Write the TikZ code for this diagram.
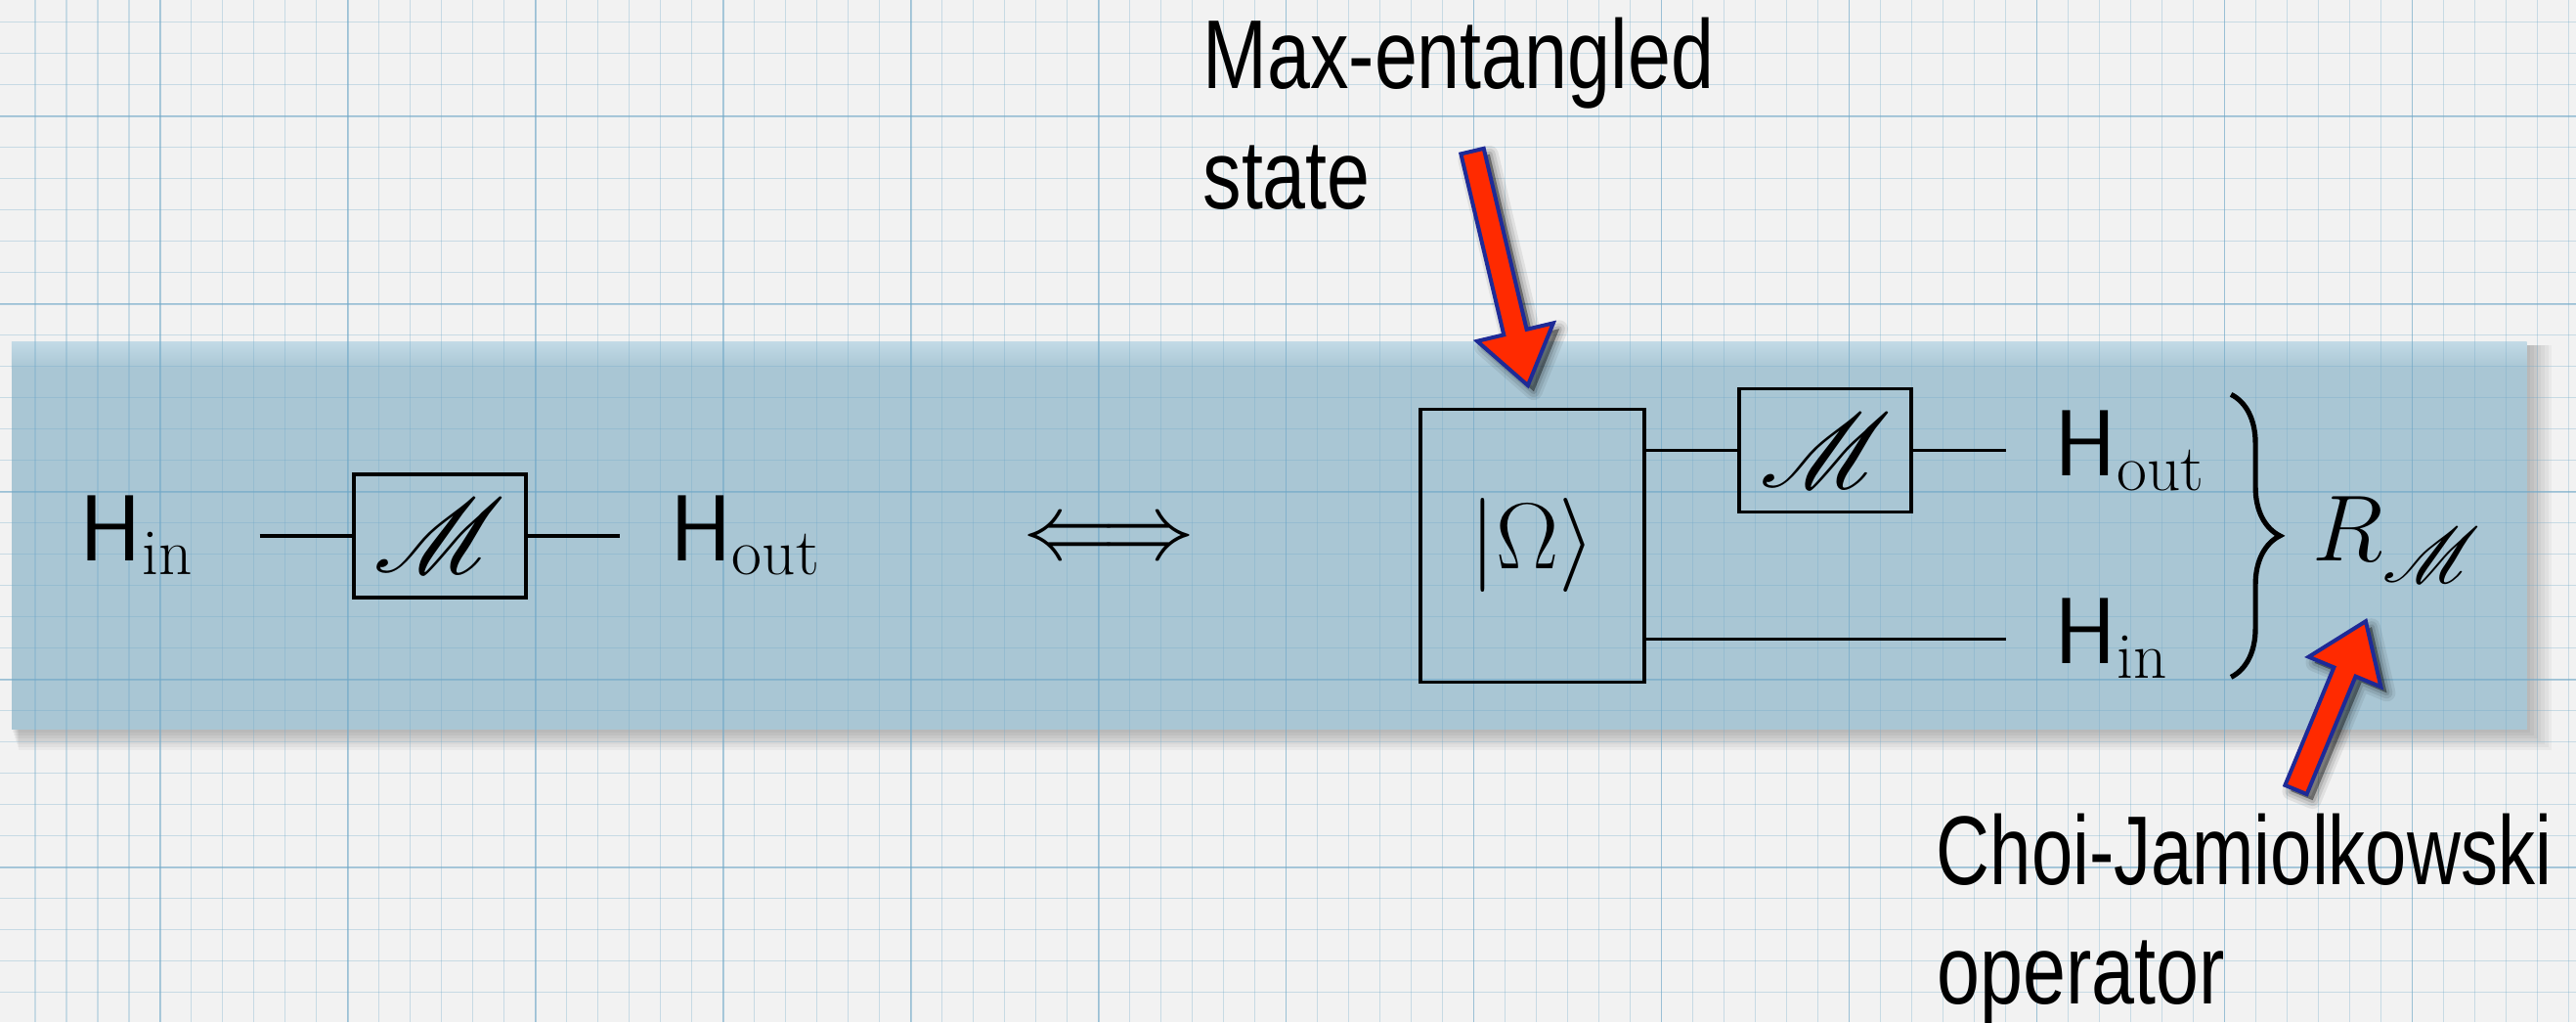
\RequirePackage{fix-cm}
\documentclass[tikz,border=0pt]{standalone}
\usepackage{amsmath}
\usepackage{mathrsfs}
\DeclareFontFamily{U}{rsfs}{\skewchar\font127 }
\DeclareFontShape{U}{rsfs}{m}{n}{<-6> rsfs5 <6-8> rsfs7 <8-> rsfs10}{}
\usepackage{fontspec}
\usetikzlibrary{calc,decorations.pathreplacing}
\newfontfamily\lblfont[FakeStretch=0.79]{Liberation Sans}
\newfontfamily\lblfontn[FakeStretch=0.76]{Liberation Sans}
\newcommand\bigM{\mbox{\fontsize{54}{60}\selectfont$\mathscr{M}$}}
\newcommand\subM{\mbox{\fontsize{40}{44}\selectfont$\mathscr{M}$}}
\definecolor{bgcol}{HTML}{F2F2F2}
\definecolor{bandcol}{HTML}{A9C6D4}
\definecolor{bandtop}{HTML}{C2DAE6}
\definecolor{gridcol}{HTML}{6FA8C8}
\definecolor{arrowred}{HTML}{FF2A00}
\definecolor{arrowblue}{HTML}{1E2A96}
\newcommand\mkpointer[3]{%
  \coordinate (#1T) at #2;
  \coordinate (#1P) at #3;
  \coordinate (#1H) at ($(#1P)!28pt!(#1T)$);
  \coordinate (#1H1) at ($(#1H)!20pt!90:(#1P)$);
  \coordinate (#1H2) at ($(#1H)!6pt!90:(#1P)$);
  \coordinate (#1T2) at ($(#1T)!6pt!90:(#1P)$);
  \coordinate (#1T3) at ($(#1T)!6pt!-90:(#1P)$);
  \coordinate (#1H3) at ($(#1H)!6pt!-90:(#1P)$);
  \coordinate (#1H4) at ($(#1H)!20pt!-90:(#1P)$);
}
\newcommand\pointerpath[1]{(#1P) -- (#1H1) -- (#1H2) -- (#1T2) -- (#1T3) -- (#1H3) -- (#1H4) -- cycle}
\begin{document}
\begin{tikzpicture}[x=0.84025pt,y=-0.84025pt,
  mtext/.style={inner sep=0pt, font=\fontsize{48}{58}\selectfont},
  gate/.style={draw, line width=1.8pt, minimum width=88pt, minimum height=63pt, inner sep=0pt, font=\fontsize{48}{58}\selectfont},
  wire/.style={line width=1.8pt},
  lbl/.style={inner sep=0pt, anchor=base west, font=\lblfont\fontsize{50}{60}\selectfont},
  pointer/.style={fill=arrowred, draw=arrowblue, line width=2pt, line join=miter},
  gridline/.style={gridcol, opacity=0.32, line width=0.8pt},
  gridmajor/.style={gridcol, opacity=0.50, line width=0.9pt},
]
\useasboundingbox (0,0) rectangle (1568,622);
\fill[bgcol] (0,0) rectangle (1568,622);
% band shadow
\foreach \i in {1,...,7}{
  \fill[black, opacity=0.035] (7+\i*0.6,210) rectangle (1538+\i*2.2,444+\i*1.8);
}
% band
\fill[bandcol] (7,208) rectangle (1538,444);
\shade[top color=bandtop, bottom color=bandcol] (7,208) rectangle (1538,224);
% grid
\foreach \k in {0,...,81}{
  \draw[gridline] ({21.25+19.04*\k},0) -- ({21.25+19.04*\k},622);
}
\foreach \k in {0,...,32}{
  \draw[gridline] (0,{13.5+19.04*\k}) -- (1568,{13.5+19.04*\k});
}
\foreach \k in {4,10,...,81}{
  \draw[gridmajor] ({21.25+19.04*\k},0) -- ({21.25+19.04*\k},622);
}
\foreach \k in {3,9,...,32}{
  \draw[gridmajor] (0,{13.5+19.04*\k}) -- (1568,{13.5+19.04*\k});
}
% left circuit
\node[gate] (mL) at (267.7,326) {\bigM};
\node[mtext, anchor=base west] (hinL) at (48.5,341) {$\mathsf{H}_{\mathrm{in}}$};
\node[mtext, anchor=base west] (houtL) at (407.5,341) {$\mathsf{H}_{\mathrm{out}}$};
\coordinate (wL) at (158,326);
\coordinate (wR) at (377.5,326);
\draw[wire] (wL) -- (mL.west);
\draw[wire] (mL.east) -- (wR);
\node[mtext, anchor=base] (iff) at (674.8,340) {$\Longleftrightarrow$};
% right circuit
\node[gate, minimum width=114.7pt, minimum height=139.5pt] (om) at (932.75,332) {$|\Omega\rangle$};
\node[gate] (mR) at (1111,274) {\bigM};
\coordinate (wT) at (1221,274);
\coordinate (wB) at (1221,388.8);
\draw[wire] (om.east |- mR.west) -- (mR.west);
\draw[wire] (mR.east) -- (wT);
\draw[wire] (om.east |- wB) -- (wB);
\node[mtext, anchor=base west] (houtR) at (1250.5,289.6) {$\mathsf{H}_{\mathrm{out}}$};
\node[mtext, anchor=base west] (hinR) at (1250.5,404) {$\mathsf{H}_{\mathrm{in}}$};
\coordinate (brT) at (1358,240);
\coordinate (brB) at (1358,412);
\draw[line width=2.6pt, decorate, decoration={brace, amplitude=25pt}] (brT) -- (brB);
\node[mtext, anchor=base west] (R) at (1407.5,341) {$R_{\subM}$};
% labels
\node[lbl] (maxA) at (732,53.6) {Max-entangled};
\node[lbl] (maxB) at (732,126.9) {state};
\node[lbl, font=\lblfontn\fontsize{50}{60}\selectfont] (choiA) at (1178.5,538.5) {Choi-Jamiolkowski};
\node[lbl] (choiB) at (1179,611) {operator};
% pointers
\mkpointer{a}{(896.2,92)}{(930,234.5)}
\mkpointer{b}{(1397.5,480.5)}{(1440,378)}
\begin{scope}[transform canvas={shift={(3pt,-3pt)}}]
  \foreach \w/\o in {9pt/0.07,6pt/0.09,3pt/0.12,0.1pt/0.18}{
    \filldraw[black, opacity=\o, line width=\w, line join=round] \pointerpath{a};
    \filldraw[black, opacity=\o, line width=\w, line join=round] \pointerpath{b};
  }
\end{scope}
\draw[pointer] \pointerpath{a};
\draw[pointer] \pointerpath{b};
\end{tikzpicture}
\end{document}
